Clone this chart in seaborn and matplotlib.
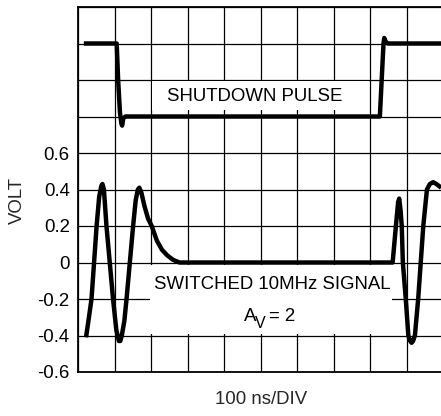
import matplotlib
matplotlib.use("Agg")
import matplotlib.pyplot as plt
from matplotlib.patches import Rectangle
import numpy as np
import pandas as pd
import seaborn as sns

# ---- data (x in divisions of 100 ns, y in volts) ----
signal_x = [0.22, 0.30, 0.37, 0.44, 0.51, 0.58, 0.64, 0.67, 0.71, 0.78, 0.87, 0.96,
            1.05, 1.12, 1.16, 1.20, 1.27, 1.33, 1.42, 1.51, 1.58, 1.64, 1.68, 1.74,
            1.82, 1.92, 2.02, 2.16, 2.30, 2.44, 2.60, 2.78,
            8.62, 8.71, 8.77, 8.80, 8.84, 8.87, 8.90, 8.98, 9.05, 9.10, 9.14, 9.18,
            9.23, 9.32, 9.39, 9.46, 9.56, 9.64, 9.73, 9.82, 9.95]
signal_y = [-0.41, -0.30, -0.20, 0.00, 0.20, 0.36, 0.42, 0.43, 0.40, 0.20, 0.00, -0.20,
            -0.37, -0.43, -0.43, -0.40, -0.32, -0.20, 0.00, 0.20, 0.34, 0.40, 0.41, 0.38,
            0.31, 0.24, 0.20, 0.12, 0.07, 0.04, 0.015, 0.0,
            0.0, 0.20, 0.33, 0.35, 0.28, 0.20, 0.00, -0.20, -0.40, -0.43, -0.44, -0.43,
            -0.40, -0.20, 0.00, 0.20, 0.40, 0.43, 0.44, 0.43, 0.41]

pulse_x = [0.16, 1.06, 1.10, 1.15, 1.19, 1.21, 1.24, 1.30, 8.27, 8.32, 8.37, 8.39, 8.43, 8.49, 10.0]
pulse_y = [1.20, 1.20, 1.00, 0.82, 0.76, 0.75, 0.79, 0.80, 0.80, 1.00, 1.20, 1.23, 1.21, 1.20, 1.20]

ytick_vals = [-0.6, -0.4, -0.2, 0.0, 0.2, 0.4, 0.6, 0.8, 1.0, 1.2, 1.4]
ytick_labels = ["-0.6", "-0.4", "-0.2", "0", "0.2", "0.4", "0.6", "", "", "", ""]
xtick_vals = list(range(0, 11))

label_pulse = "SHUTDOWN PULSE"
label_signal = "SWITCHED 10MHz SIGNAL"
gain_main, gain_sub, gain_rest = "A", "V", "= 2"
xlabel = "100 ns/DIV"
ylabel = "VOLT"

# ---- style ----
sns.set_theme(style="white")
plt.rcParams["font.family"] = ["Liberation Sans", "DejaVu Sans"]

W, H = 441, 416
fig = plt.figure(figsize=(W / 100, H / 100), dpi=100)
ax = fig.add_axes([78 / W, 44 / H, 365 / W, 365 / H])

df_sig = pd.DataFrame({"t": signal_x, "v": signal_y})
df_pul = pd.DataFrame({"t": pulse_x, "v": pulse_y})
for df in (df_sig, df_pul):
    sns.lineplot(data=df, x="t", y="v", sort=False, estimator=None, ax=ax,
                 color="black", linewidth=3.2, zorder=3,
                 solid_joinstyle="round", solid_capstyle="butt")

ax.set_xlim(0, 10)
ax.set_ylim(-0.6, 1.4)
ax.set_xticks(xtick_vals)
ax.set_xticklabels([])
ax.set_yticks(ytick_vals)
ax.set_yticklabels(ytick_labels)
ax.tick_params(axis="both", length=0, labelsize=13.4, colors="black", pad=6)
ax.set_axisbelow(True)
ax.grid(True, color="black", linewidth=0.9)
ax.set_xlabel("")
ax.set_ylabel("")
for s in ax.spines.values():
    s.set_color("black")
    s.set_linewidth(1.3)
    s.set_visible(True)

# white label boxes
ax.add_patch(Rectangle((2.02, 0.835), 5.96, 0.16, facecolor="white",
                       edgecolor="none", zorder=2))
ax.add_patch(Rectangle((1.97, -0.39), 6.62, 0.378, facecolor="white",
                       edgecolor="none", zorder=2))

ax.text(4.85, 0.91, label_pulse, ha="center", va="center", fontsize=13.4,
        color="black", zorder=4)
ax.text(5.32, -0.12, label_signal, ha="center", va="center", fontsize=13.4,
        color="black", zorder=4)
ax.text(4.55, -0.321, gain_main, ha="left", va="baseline", fontsize=13.4,
        color="black", zorder=4)
ax.text(4.84, -0.361, gain_sub, ha="left", va="baseline", fontsize=11.5,
        color="black", zorder=4)
ax.text(5.23, -0.321, gain_rest, ha="left", va="baseline", fontsize=13.4,
        color="black", zorder=4)

fig.text(261 / W, 1 - 400 / H, xlabel, ha="center", va="center", fontsize=13.4)
fig.text(17 / W, 1 - 200 / H, ylabel, ha="center", va="center", rotation=90,
         fontsize=13.4)

fig.savefig("out.png", dpi=100)
